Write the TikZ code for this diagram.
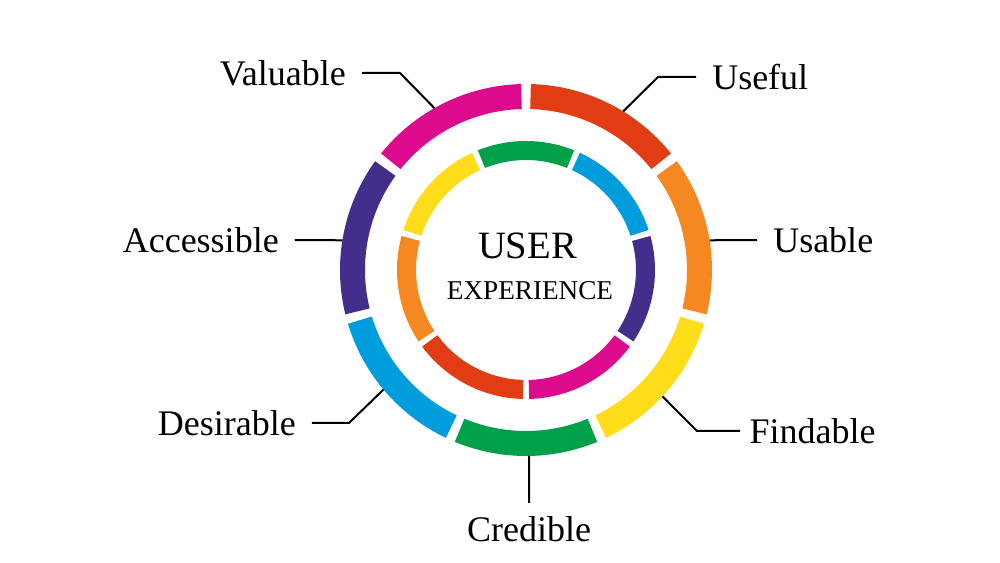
\documentclass[tikz,border=0pt]{standalone}
\usepackage{fontspec}
\setmainfont{Liberation Serif}
\usepackage{tikz}
\usetikzlibrary{positioning}

\definecolor{uxmagenta}{RGB}{220,10,140}
\definecolor{uxred}{RGB}{225,60,20}
\definecolor{uxorange}{RGB}{246,136,34}
\definecolor{uxyellow}{RGB}{255,221,26}
\definecolor{uxgreen}{RGB}{0,160,75}
\definecolor{uxblue}{RGB}{0,157,221}
\definecolor{uxpurple}{RGB}{67,46,140}

\begin{document}
\begin{tikzpicture}[
  x=0.75pt, y=0.75pt,
  tag/.style={inner sep=12pt, font=\fontsize{27}{30}\selectfont},
  leader/.style={draw=black, line width=1.5pt}
]
  \useasboundingbox[fill=white] (-526,-293) rectangle (474,270);

  % outer ring
  \foreach \a/\b/\c in {37.3/90/uxred, -15.3/37.3/uxorange, -66/-15.3/uxyellow,
      -114/-66/uxgreen, -164.7/-114/uxblue, 142.7/195.3/uxpurple, 90/142.7/uxmagenta}
    \fill[\c] ({\a+1.5}:186) arc[start angle=\a+1.5, end angle=\b-1.5, radius=186]
      -- ({\b-1.5}:161) arc[start angle=\b-1.5, end angle=\a+1.5, radius=161] -- cycle;

  % inner ring
  \foreach \a/\b/\c in {66.7/113.3/uxgreen, 16.7/66.7/uxblue, -35/16.7/uxpurple,
      -90/-35/uxmagenta, -145/-90/uxred, 163.3/215/uxorange, 113.3/163.3/uxyellow}
    \fill[\c] ({\a+1.4}:129) arc[start angle=\a+1.4, end angle=\b-1.4, radius=129]
      -- ({\b-1.4}:110) arc[start angle=\b-1.4, end angle=\a+1.4, radius=110] -- cycle;

  \node (user) at (1.5,24) {\fontsize{29}{32}\selectfont USER};
  \node (experience) at (4,-21) {\fontsize{20.4}{24}\selectfont EXPERIENCE};

  % pins on the outer ring
  \coordinate (valuable-pin) at (119.5:186);
  \coordinate (useful-pin) at (58.5:186);
  \coordinate (usable-pin) at (9.2:186);
  \coordinate (findable-pin) at (-42.8:186);
  \coordinate (credible-pin) at (-89:186);
  \coordinate (desirable-pin) at (-140:186);
  \coordinate (accessible-pin) at (170.8:186);

  % bends
  \coordinate (valuable-bend) at (-126,197);
  \coordinate (useful-bend) at (132,193);
  \coordinate (findable-bend) at (171,-161);
  \coordinate (desirable-bend) at (-177,-153);

  % labels
  \node[tag, anchor=east] (valuable) at (-164,197) {Valuable};
  \node[tag, anchor=west] (useful) at (170,193) {Useful};
  \node[tag, anchor=west] (usable) at (231,30) {Usable};
  \node[tag, anchor=west, inner xsep=7pt] (findable) at (214,-161) {Findable};
  \node[tag, anchor=north, inner ysep=10pt] (credible) at (3.2,-233) {Credible};
  \node[tag, anchor=east] (desirable) at (-214,-153) {Desirable};
  \node[tag, anchor=east] (accessible) at (-231,30) {Accessible};

  \draw[leader] (valuable-pin) -- (valuable-bend) -- (valuable);
  \draw[leader] (useful-pin) -- (useful-bend) -- (useful);
  \draw[leader] (usable-pin) -- (usable);
  \draw[leader] (findable-pin) -- (findable-bend) -- (findable);
  \draw[leader] (credible-pin) -- (credible.north);
  \draw[leader] (desirable-pin) -- (desirable-bend) -- (desirable);
  \draw[leader] (accessible-pin) -- (accessible);
\end{tikzpicture}
\end{document}
